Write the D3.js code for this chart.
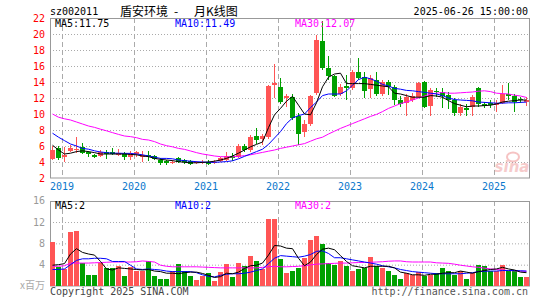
<!DOCTYPE html>
<html>
<head>
<meta charset="utf-8">
<script src="https://cdn.jsdelivr.net/npm/d3@7"></script>
<style>
body { margin: 0; background: #fff; }
svg { display: block; }
</style>
</head>
<body>
<script>
// months shown, Nov 2018 .. Jun 2025
var months = [
  "2018-11","2018-12",
  "2019-01","2019-02","2019-03","2019-04","2019-05","2019-06","2019-07","2019-08","2019-09","2019-10","2019-11","2019-12",
  "2020-01","2020-02","2020-03","2020-04","2020-05","2020-06","2020-07","2020-08","2020-09","2020-10","2020-11","2020-12",
  "2021-01","2021-02","2021-03","2021-04","2021-05","2021-06","2021-07","2021-08","2021-09","2021-10","2021-11","2021-12",
  "2022-01","2022-02","2022-03","2022-04","2022-05","2022-06","2022-07","2022-08","2022-09","2022-10","2022-11","2022-12",
  "2023-01","2023-02","2023-03","2023-04","2023-05","2023-06","2023-07","2023-08","2023-09","2023-10","2023-11","2023-12",
  "2024-01","2024-02","2024-03","2024-04","2024-05","2024-06","2024-07","2024-08","2024-09","2024-10","2024-11","2024-12",
  "2025-01","2025-02","2025-03","2025-04","2025-05","2025-06"
];
var yearTicks = ["2019","2020","2021","2022","2023","2024","2025"];
var priceTicks = [2,4,6,8,10,12,14,16,18,20,22];
var volTicks = [4,8,12,16];

var open = [4.4,5.7,4.6,5.4,5.5,5.9,5.2,4.9,4.8,5.25, 5.2,4.9,5.0,4.6,4.9,4.7,4.9,4.7,4.3,4.1,
  3.9,4.45,4.2,4.15,3.85,3.9,4.05,3.9,4.1,4.3, 4.75,4.6,6.0,5.5,7.25,6.9,7.1,13.6,13.4,11.9,
  12.1,9.7,7.7,8.75,12.6,19.1,15.7,14.7,12.5,13.5, 13.2,15.3,14.6,13.1,14.2,12.5,14.0,13.4,11.75,11.4,
  11.8,12.2,14.0,11.0,12.9,12.8,12.4,11.7,10.2,10.8, 10.8,13.2,11.3,11.4,11.1,11.4,12.5,12.2,11.9,11.5];
var close = [5.5,4.4,4.9,5.8,5.6,5.2,4.9,4.7,5.3,5.0, 5.0,5.1,4.6,5.0,5.2,4.9,4.75,4.3,3.9,3.85,
  4.05,4.0,3.9,3.8,4.0,4.0,3.85,4.05,4.45,4.75, 4.5,6.0,5.5,7.1,6.75,7.25,13.5,13.9,11.5,12.2,
  9.5,7.4,8.75,12.25,19.25,15.7,14.7,12.25,13.4,13.25, 15.2,14.6,12.9,14.5,12.5,14.0,13.4,11.75,11.3,12.1,
  12.25,13.9,10.9,13.0,12.75,12.25,11.75,10.1,10.9,10.6, 12.1,11.25,11.1,11.1,11.4,12.5,12.2,11.4,11.75,11.75];
var high = [6.0,6.0,5.9,6.1,7.1,6.4,5.4,5.0,5.5,5.5, 5.8,5.6,5.3,5.4,5.4,5.4,5.4,4.9,4.5,4.2,
  4.3,4.6,4.4,4.3,4.1,4.2,4.3,4.2,4.6,5.2, 5.1,6.25,6.3,7.4,8.25,7.5,13.6,16.3,14.5,12.5,
  12.5,10.1,9.25,12.4,19.9,21.6,17.2,14.9,13.8,14.9, 15.5,17.0,15.3,14.9,15.3,14.3,14.25,13.6,12.2,12.5,
  12.6,14.0,14.1,13.2,13.3,13.2,12.8,12.0,11.3,11.3, 12.4,13.4,11.5,11.75,11.75,13.6,13.9,12.5,12.1,12.1];
var low = [4.25,4.25,4.0,5.2,5.1,5.0,4.6,4.5,4.6,4.4, 4.9,4.7,4.3,4.3,4.6,4.0,4.1,4.2,3.6,3.6,
  3.7,3.9,3.8,3.6,3.75,3.8,3.6,3.8,4.0,4.1, 4.1,4.5,5.3,5.3,6.25,6.1,6.9,12.0,11.3,10.9,
  9.25,6.1,7.1,8.5,12.4,15.5,14.25,12.1,12.2,11.75, 13.0,14.25,12.0,12.0,12.2,12.2,12.4,11.1,10.9,9.75,
  11.5,12.0,10.8,9.7,12.1,10.7,10.6,9.7,9.75,9.75, 9.75,10.9,10.8,10.8,10.3,11.3,11.75,10.3,11.4,11.0];

var ma5 = [6.1,5.5,5.0,5.1,5.3,5.4,5.3,5.17,5.0,5.0, 5.0,5.0,5.0,4.95,4.9,4.75,4.67,4.45,4.33,4.25,
  4.17,4.04,3.96,3.9,3.9,3.95,4.0,4.1,4.25,4.45, 4.75,5.1,5.5,5.9,6.2,6.5,8.3,9.9,10.7,11.6,
  12.2,11.1,10.0,9.9,11.4,13.4,14.6,15.0,15.1,13.8, 13.8,13.8,13.8,13.7,13.6,13.5,13.4,12.6,12.5,12.3,
  12.1,12.1,12.1,12.3,12.25,12.1,11.67,11.3,11.1,10.9, 11.0,11.0,11.05,11.1,11.25,11.5,11.6,11.67,11.75,11.75];
var ma10 = [7.6,7.1,6.67,6.25,6.0,5.7,5.6,5.4,5.25,5.17, 5.1,5.1,5.08,5.08,5.0,4.9,4.75,4.6,4.45,4.45,
  4.4,4.25,4.17,4.1,4.04,4.0,3.96,3.96,4.0,4.05, 4.15,4.4,4.7,5.0,5.3,5.6,6.2,7.0,7.8,8.8,
  9.5,9.8,10.0,10.8,11.5,12.3,12.5,12.5,12.5,12.9, 13.6,14.3,14.6,14.4,14.1,13.7,13.5,13.2,13.1,12.95,
  12.9,12.8,12.7,12.6,12.5,12.3,12.0,11.8,11.75,11.7, 11.65,11.5,11.45,11.4,11.35,11.35,11.4,11.4,11.45,11.49];
var ma30 = [10.0,9.6,9.4,9.25,9.0,8.75,8.5,8.33,8.1,7.9, 7.67,7.45,7.25,7.17,7.04,6.83,6.75,6.55,6.25,6.04,
  5.9,5.7,5.58,5.38,5.17,5.0,4.88,4.75,4.67,4.65, 4.65,4.7,4.8,4.9,5.05,5.2,5.35,5.5,5.7,5.85,
  6.0,6.15,6.3,6.6,6.9,7.1,7.5,7.85,8.2,8.5, 8.8,9.1,9.4,9.7,9.95,10.3,10.7,11.0,11.3,11.5,
  11.75,12.0,12.25,12.5,12.6,12.7,12.6,12.6,12.65,12.7, 12.75,12.85,12.9,12.8,12.6,12.55,12.5,12.35,12.25,12.07];

// volume, millions
var vol = [8.2,3.6,3.2,10.1,10.3,4.4,2.1,2.0,4.4,3.3, 3.4,3.8,1.8,3.6,2.8,2.9,4.6,1.8,1.25,1.25,
  2.9,4.2,2.9,1.8,1.05,1.8,2.4,0.9,2.6,4.1, 1.6,4.25,3.7,5.6,4.6,3.1,12.5,12.5,5.0,2.4,
  2.75,3.4,5.2,8.6,9.3,7.9,4.4,3.9,4.6,3.7, 2.9,3.1,3.4,5.4,3.7,3.3,2.9,2.0,1.25,2.4,
  2.0,2.6,1.8,2.0,2.4,3.4,2.75,2.0,2.9,1.4, 2.4,3.9,3.7,2.9,2.75,3.9,2.9,2.75,1.6,1.6];
var vma5 = [3.9,4.0,4.2,6.0,7.0,6.3,6.0,5.8,4.6,3.2, 3.0,3.4,3.3,3.2,3.1,3.0,3.1,2.8,2.7,2.4,
  2.4,2.3,2.5,2.6,2.6,2.35,2.0,1.6,1.75,2.4, 2.3,2.6,3.3,3.8,3.9,4.3,5.8,7.6,7.5,7.1,
  7.0,5.2,3.8,4.5,5.9,6.9,7.1,6.8,5.7,4.6, 3.8,3.6,3.4,3.7,3.7,3.7,3.7,3.4,2.6,2.4,
  2.1,2.1,2.0,2.2,2.2,2.4,2.5,2.5,2.8,2.6, 2.4,2.7,2.9,3.1,3.2,3.5,3.2,3.0,2.6,2.5];
var vma10 = [3.1,3.1,3.2,4.0,4.8,5.1,5.1,5.2,5.2,5.1, 4.6,4.6,4.6,3.9,3.2,3.1,3.2,3.1,3.0,2.8,
  2.7,2.7,2.7,2.7,2.5,2.1,1.8,1.7,2.0,2.2, 2.3,2.3,2.4,2.6,2.9,3.2,4.2,5.2,5.7,5.6,
  5.5,5.4,5.6,5.9,6.5,6.6,6.1,5.3,5.3,5.1, 4.9,4.7,4.5,4.3,4.1,3.8,3.6,3.4,3.1,2.9,
  2.7,2.6,2.5,2.4,2.3,2.3,2.3,2.3,2.3,2.4, 2.5,2.7,2.75,2.8,2.8,2.9,2.9,2.9,2.85,2.8];
var vma30 = [3.7,3.7,3.8,4.3,4.3,4.3,4.3,4.35,4.4,4.45, 4.5,4.5,4.5,4.5,4.55,4.7,4.6,4.5,3.9,3.7,
  3.6,3.6,3.6,3.6,3.6,3.55,3.5,3.45,3.4,3.4, 3.4,3.4,3.4,3.4,3.4,3.5,3.6,3.7,3.6,3.6,
  3.65,3.7,3.8,3.95,4.1,4.15,4.2,4.25,4.3,4.3, 4.35,4.4,4.4,4.45,4.5,4.55,4.65,4.7,4.7,4.55,
  4.5,4.5,4.5,4.5,4.35,4.3,4.25,4.1,3.9,3.75, 3.6,3.5,3.35,3.2,3.1,3.0,2.9,2.85,2.8,2.75];

var RED = "#ff5555", GREEN = "#00a000", GRID = "#aaa", BORDER = "#999";
var MONO = "'DejaVu Sans Mono', monospace";
var CJK = "'Noto Sans CJK SC', sans-serif";

var svg = d3.select("body").append("svg").attr("width", 545).attr("height", 300);

var x = d3.scaleBand().domain(months).range([50, 530]);
var y = d3.scaleLinear().domain([2, 22]).range([178, 18]);
var yv = d3.scaleLinear().domain([0, 16]).range([286, 200.7]);
var bw = x.bandwidth() - 1;
var idx = d3.range(months.length);
var mid = function(i) { return x(months[i]) + bw / 2; };
var isUp = function(i) { return close[i] >= open[i]; };

// grids
function hgrid(scale, ticks) {
  svg.append("g").attr("transform", "translate(50,0)")
    .call(d3.axisLeft(scale).tickValues(ticks).tickSize(-479).tickFormat(""))
    .call(function(g) { g.select(".domain").remove(); })
    .selectAll("line").attr("stroke", GRID).attr("stroke-dasharray", "1,2");
}
hgrid(y, priceTicks.slice(1, -1));
hgrid(yv, volTicks.slice(0, -1));

yearTicks.forEach(function(yr) {
  var gx = Math.round(x(yr + "-01")) + 0.5;
  [[18, 178], [201, 286]].forEach(function(r) {
    svg.append("line").attr("x1", gx).attr("x2", gx).attr("y1", r[0]).attr("y2", r[1])
      .attr("stroke", GRID).attr("stroke-dasharray", "5,3");
  });
});

// panel borders
svg.append("rect").attr("x", 50.5).attr("y", 18.5).attr("width", 479).attr("height", 159.5)
  .attr("fill", "none").attr("stroke", BORDER);
svg.append("rect").attr("x", 50.5).attr("y", 201.5).attr("width", 479).attr("height", 84.5)
  .attr("fill", "none").attr("stroke", BORDER);

// sina watermark
var wm = svg.append("g").attr("opacity", 0.5);
wm.append("ellipse").attr("cx", 513).attr("cy", 157).attr("rx", 6).attr("ry", 4.5)
  .attr("fill", "none").attr("stroke", "#e88").attr("stroke-width", 2);
wm.append("text").attr("x", 512).attr("y", 172).attr("text-anchor", "middle")
  .attr("font-family", "'DejaVu Sans', sans-serif").attr("font-size", 15).attr("font-weight", "bold")
  .attr("font-style", "italic").attr("fill", "#e99").text("sina");

// candles
var cg = svg.append("g");
cg.selectAll("line.wick").data(idx).enter().append("line")
  .attr("x1", function(i) { return Math.floor(mid(i)) + 0.5; })
  .attr("x2", function(i) { return Math.floor(mid(i)) + 0.5; })
  .attr("y1", function(i) { return Math.round(y(high[i])); })
  .attr("y2", function(i) { return Math.round(y(low[i])); })
  .attr("stroke", function(i) { return isUp(i) ? RED : GREEN; });
cg.selectAll("rect.body").data(idx).enter().append("rect")
  .attr("x", function(i) { return x(months[i]); })
  .attr("width", bw)
  .attr("y", function(i) { return Math.round(y(Math.max(open[i], close[i]))); })
  .attr("height", function(i) { return Math.max(1, Math.round(Math.abs(y(open[i]) - y(close[i])))); })
  .attr("fill", function(i) { return isUp(i) ? RED : GREEN; });

// volume bars
svg.append("g").selectAll("rect").data(idx).enter().append("rect")
  .attr("x", function(i) { return x(months[i]); })
  .attr("width", bw)
  .attr("y", function(i) { return Math.round(yv(vol[i])); })
  .attr("height", function(i) { return 286 - Math.round(yv(vol[i])); })
  .attr("fill", function(i) { return isUp(i) ? RED : GREEN; });

// moving averages
function maLine(arr, scale, color) {
  svg.append("path").datum(idx)
    .attr("d", d3.line().x(function(i) { return mid(i); }).y(function(i) { return scale(arr[i]); }))
    .attr("fill", "none").attr("stroke", color).attr("stroke-width", 1);
}
maLine(ma30, y, "#ff00ff");
maLine(ma10, y, "#0000ff");
maLine(ma5, y, "#000");
maLine(vma30, yv, "#ff00ff");
maLine(vma10, yv, "#0000ff");
maLine(vma5, yv, "#000");

// axes
svg.append("g").attr("transform", "translate(50,0)")
  .call(d3.axisLeft(y).tickValues(priceTicks).tickSize(0).tickPadding(5))
  .attr("font-family", MONO).attr("font-size", 10)
  .call(function(g) { g.select(".domain").remove(); })
  .selectAll("text").attr("fill", "#f00");

svg.append("g").attr("transform", "translate(50,0)")
  .call(d3.axisLeft(yv).tickValues(volTicks).tickSize(0).tickPadding(5))
  .attr("font-family", MONO).attr("font-size", 10)
  .call(function(g) { g.select(".domain").remove(); })
  .selectAll("text").attr("fill", "#999");

svg.append("g").attr("transform", "translate(" + (-x.bandwidth() / 2) + ",178)")
  .call(d3.axisBottom(x).tickValues(yearTicks.map(function(d) { return d + "-01"; }))
    .tickFormat(function(d) { return d.slice(0, 4); }).tickSize(0).tickPadding(5))
  .attr("font-family", MONO).attr("font-size", 10)
  .call(function(g) { g.select(".domain").remove(); })
  .selectAll("text").attr("fill", "#0a78cc");

// texts
function label(tx, ty, str, color, anchor, font, size) {
  svg.append("text").attr("x", tx).attr("y", ty).attr("fill", color)
    .attr("text-anchor", anchor || "start")
    .attr("font-family", font || MONO).attr("font-size", size || 10).text(str);
}
label(50, 15, "sz002011", "#000");
label(120, 15.5, "盾安环境", "#000", "start", CJK, 12);
label(174, 15.5, "-", "#000", "start", CJK, 12);
label(194, 15.5, "月K线图", "#000", "start", CJK, 12);
label(528, 15, "2025-06-26 15:00:00", "#000", "end");
label(55, 27, "MA5:" + ma5[ma5.length - 1].toFixed(2), "#000");
label(175, 27, "MA10:" + ma10[ma10.length - 1].toFixed(2), "#0000ff");
label(295, 27, "MA30:" + ma30[ma30.length - 1].toFixed(2), "#ff00ff");
label(55, 209, "MA5:" + Math.floor(vma5[vma5.length - 1]), "#000");
label(175, 209, "MA10:" + Math.floor(vma10[vma10.length - 1]), "#0000ff");
label(295, 209, "MA30:" + Math.floor(vma30[vma30.length - 1]), "#ff00ff");
label(45, 289, "x百万", "#aaa", "end", CJK, 10);
label(50, 295, "Copyright 2025 SINA.COM", "#444");
label(528, 295, "http://finance.sina.com.cn", "#555", "end");
</script>
</body>
</html>
